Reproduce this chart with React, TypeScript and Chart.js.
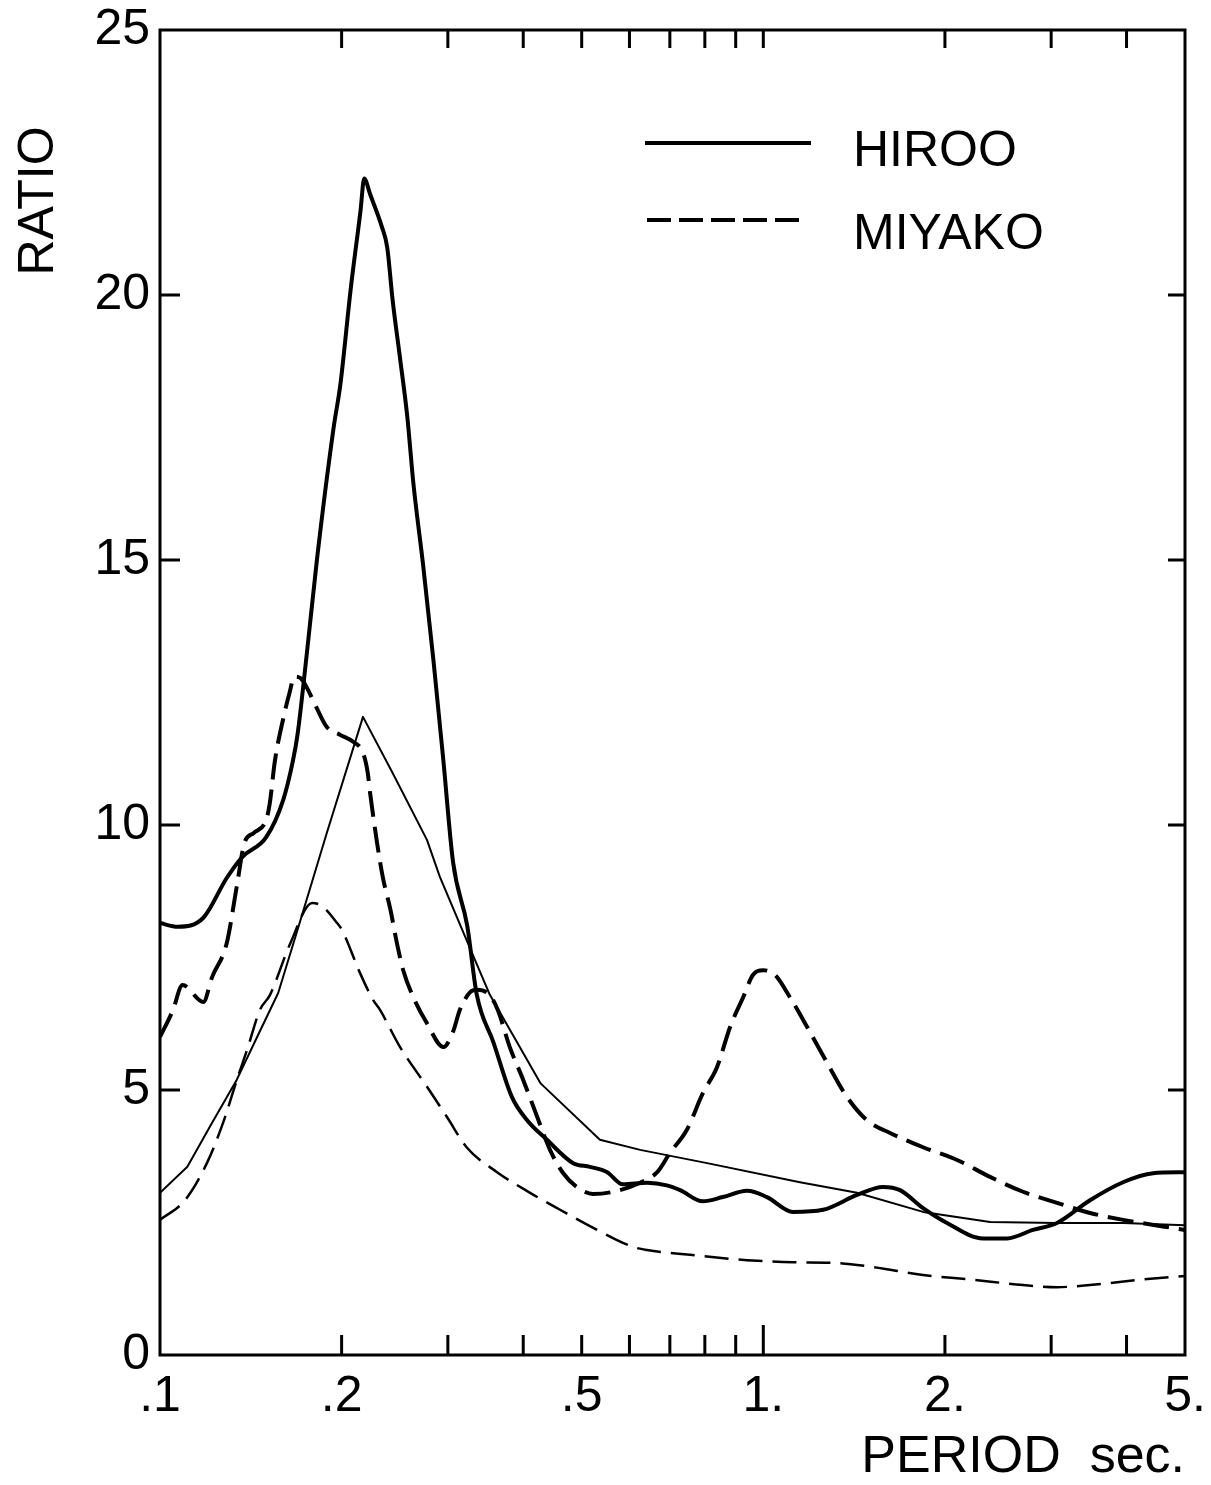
import React, { useEffect, useRef } from "react";
import { Chart, registerables } from "chart.js";

Chart.register(...registerables);

// ---- data (period in seconds, spectral ratio) ----
const hirooPeriod = [
  0.1, 0.107, 0.118, 0.129, 0.137, 0.15, 0.16, 0.166, 0.169, 0.175,
  0.182, 0.194, 0.199, 0.207, 0.215, 0.218, 0.223, 0.233, 0.238, 0.243,
  0.25, 0.257, 0.263, 0.273, 0.284, 0.295, 0.306, 0.323, 0.335, 0.357,
  0.383, 0.406, 0.438, 0.484, 0.516, 0.551, 0.585, 0.642, 0.692, 0.728,
  0.794, 0.857, 0.94, 1.014, 1.12, 1.256, 1.43, 1.579, 1.685, 1.84,
  2.016, 2.313, 2.535, 2.799, 3.068, 3.479, 3.947, 4.426, 5.0,
];
const hirooRatio = [
  8.15, 8.08, 8.25, 9.0, 9.4, 9.77, 10.47, 11.2, 11.7, 13.2,
  15.0, 17.5, 18.3, 20.1, 21.6, 22.2, 21.9, 21.3, 20.9, 19.9,
  18.8, 17.7, 16.45, 14.9, 13.1, 11.2, 9.3, 8.1, 6.8, 5.9,
  4.87, 4.43, 4.06, 3.62, 3.55, 3.45, 3.22, 3.25, 3.2, 3.11,
  2.9, 2.98, 3.1, 2.98, 2.7, 2.74, 3.02, 3.17, 3.11, 2.77,
  2.49, 2.2, 2.2, 2.36, 2.49, 2.92, 3.26, 3.43, 3.45,
];

const hirooThinPeriod = [
  0.1, 0.111, 0.122, 0.134, 0.146, 0.157, 0.169, 0.189, 0.217, 0.243,
  0.277, 0.291, 0.33, 0.352, 0.427, 0.536, 0.625, 0.807, 1.15, 1.43,
  1.84, 2.376, 3.068, 3.947, 5.0,
];
const hirooThinRatio = [
  3.06, 3.55, 4.38, 5.19, 6.08, 6.83, 8.02, 9.85, 12.04, 10.98,
  9.72, 9.02, 7.55, 6.8, 5.13, 4.06, 3.87, 3.62, 3.26, 3.06,
  2.7, 2.51, 2.49, 2.49, 2.45,
];

const miyakoPeriod = [
  0.1, 0.105, 0.109, 0.118, 0.122, 0.129, 0.134, 0.138, 0.143, 0.15,
  0.152, 0.155, 0.16, 0.164, 0.167, 0.171, 0.175, 0.182, 0.189, 0.199,
  0.209, 0.217, 0.221, 0.223, 0.229, 0.234, 0.241, 0.247, 0.253, 0.263,
  0.277, 0.295, 0.306, 0.314, 0.327, 0.335, 0.352, 0.363, 0.38, 0.4,
  0.422, 0.443, 0.466, 0.491, 0.522, 0.564, 0.625, 0.667, 0.7, 0.747,
  0.794, 0.838, 0.881, 0.926, 0.961, 1.0, 1.046, 1.107, 1.182, 1.276,
  1.376, 1.485, 1.622, 1.84, 2.095, 2.376, 2.695, 3.068, 3.479, 3.947,
  5.0,
];
const miyakoRatio = [
  6.0, 6.5, 6.98, 6.66, 7.13, 7.77, 8.83, 9.66, 9.85, 10.1,
  10.4, 11.2, 12.0, 12.5, 12.8, 12.77, 12.6, 12.2, 11.85, 11.7,
  11.57, 11.36, 10.98, 10.6, 9.66, 9.02, 8.4, 7.77, 7.26, 6.75,
  6.26, 5.81, 6.1, 6.51, 6.85, 6.89, 6.79, 6.51, 5.81, 5.19,
  4.49, 3.87, 3.43, 3.17, 3.04, 3.08, 3.25, 3.45, 3.81, 4.25,
  4.94, 5.43, 6.19, 6.75, 7.17, 7.26, 7.17, 6.75, 6.19, 5.51,
  4.87, 4.43, 4.19, 3.92, 3.68, 3.36, 3.08, 2.87, 2.68, 2.55,
  2.36,
];

const miyakoThinPeriod = [
  0.1, 0.11, 0.1196, 0.1272, 0.1341, 0.1399, 0.1464, 0.1521, 0.1642, 0.1787,
  0.1856, 0.1966, 0.2003, 0.2145, 0.2255, 0.2316, 0.25, 0.2771, 0.299, 0.3228,
  0.362, 0.4106, 0.4603, 0.5302, 0.6081, 0.6416, 0.7559, 0.9397, 1.12, 1.305,
  1.52, 1.84, 2.227, 2.695, 3.068, 3.479, 4.211, 5.0,
];
const miyakoThinRatio = [
  2.55, 2.92, 3.62, 4.38, 5.19, 5.81, 6.51, 6.79, 7.75, 8.53,
  8.47, 8.15, 8.02, 7.21, 6.7, 6.51, 5.81, 5.06, 4.49, 3.91,
  3.45, 3.06, 2.74, 2.36, 2.04, 1.98, 1.89, 1.79, 1.75, 1.74,
  1.66, 1.51, 1.42, 1.32, 1.28, 1.32, 1.42, 1.49,
];

// ---- axes ----
const xTickValues = [0.1, 0.2, 0.3, 0.4, 0.5, 0.6, 0.7, 0.8, 0.9, 1, 2, 3, 4, 5];
const xMarkValues = [0.2, 0.3, 0.4, 0.5, 0.6, 0.7, 0.8, 0.9, 1, 2, 3, 4];
const xLabelValues = [0.1, 0.2, 0.5, 1, 2, 5];
const xLabelTexts = [".1", ".2", ".5", "1.", "2.", "5."];
const yTickValues = [0, 5, 10, 15, 20, 25];
const yMarkValues = [5, 10, 15, 20];
const legendLabels = ["HIROO", "MIYAKO"];
const xTitle = "PERIOD  sec.";
const yTitle = "RATIO";

const FONT = "'Liberation Sans', Arial, Helvetica, sans-serif";

function pairs(xs: number[], ys: number[]) {
  return xs.map((x, i) => ({ x, y: ys[i] }));
}

function xLabelFor(v: number): string {
  for (let i = 0; i < xLabelValues.length; i++) {
    if (Math.abs(xLabelValues[i] - v) < 1e-9) return xLabelTexts[i];
  }
  return "";
}

function zeroPadding(s: any) {
  s.paddingTop = 0;
  s.paddingBottom = 0;
  s.paddingLeft = 0;
  s.paddingRight = 0;
}

const decorPlugin = {
  id: "decor",
  afterDraw(chart: any) {
    const { ctx, chartArea, scales } = chart;
    const { left, right, top, bottom } = chartArea;
    const xs = scales.x;
    const ys = scales.y;
    ctx.save();
    ctx.strokeStyle = "#000";
    ctx.fillStyle = "#000";
    ctx.setLineDash([]);
    ctx.lineCap = "butt";

    // frame
    ctx.lineWidth = 3;
    ctx.strokeRect(left, top, right - left, bottom - top);

    // inward tick marks
    const seg = (x1: number, y1: number, x2: number, y2: number) => {
      ctx.beginPath();
      ctx.moveTo(x1, y1);
      ctx.lineTo(x2, y2);
      ctx.stroke();
    };
    ctx.lineWidth = 3;
    for (const v of xMarkValues) {
      const px = xs.getPixelForValue(v);
      seg(px, bottom, px, bottom - (v === 1 ? 30 : 20));
      seg(px, top, px, top + 18);
    }
    for (const v of yMarkValues) {
      const py = ys.getPixelForValue(v);
      seg(left, py, left + 20, py);
      seg(right, py, right - 17, py);
    }

    // y title
    ctx.font = `50px ${FONT}`;
    ctx.save();
    ctx.translate(53, 201);
    ctx.rotate(-Math.PI / 2);
    ctx.textAlign = "center";
    ctx.textBaseline = "alphabetic";
    ctx.fillText(yTitle, 0, 0);
    ctx.restore();

    // legend
    const rows = [
      { y: 143, dash: [] as number[], tx: 166, x1: 645, x2: 811 },
      { y: 220, dash: [24, 8], tx: 249, x1: 647, x2: 805 },
    ];
    ctx.lineWidth = 4;
    rows.forEach((r, i) => {
      ctx.setLineDash(r.dash);
      seg(r.x1, r.y, r.x2, r.y);
      ctx.setLineDash([]);
      ctx.textAlign = "left";
      ctx.textBaseline = "alphabetic";
      ctx.fillText(legendLabels[i], 853, r.tx);
    });
    ctx.restore();
  },
};

export default function App() {
  const canvasRef = useRef<HTMLCanvasElement | null>(null);

  useEffect(() => {
    const canvas = canvasRef.current;
    if (!canvas) return;
    const chart = new Chart(canvas, {
      type: "line",
      data: {
        datasets: [
          {
            label: "HIROO",
            data: pairs(hirooPeriod, hirooRatio),
            borderColor: "#000",
            borderWidth: 4,
            pointRadius: 0,
            cubicInterpolationMode: "monotone",
            borderJoinStyle: "round",
            borderCapStyle: "round",
            fill: false,
          },
          {
            label: "MIYAKO",
            data: pairs(miyakoPeriod, miyakoRatio),
            borderColor: "#000",
            borderWidth: 4,
            borderDash: [26, 10],
            pointRadius: 0,
            cubicInterpolationMode: "monotone",
            borderJoinStyle: "round",
            fill: false,
          },
          {
            label: "HIROO (thin)",
            data: pairs(hirooThinPeriod, hirooThinRatio),
            borderColor: "#000",
            borderWidth: 2,
            pointRadius: 0,
            tension: 0,
            borderJoinStyle: "round",
            fill: false,
          },
          {
            label: "MIYAKO (thin)",
            data: pairs(miyakoThinPeriod, miyakoThinRatio),
            borderColor: "#000",
            borderWidth: 2.5,
            borderDash: [24, 10],
            pointRadius: 0,
            cubicInterpolationMode: "monotone",
            fill: false,
          },
        ],
      },
      options: {
        animation: false,
        responsive: false,
        devicePixelRatio: 1,
        layout: { padding: { top: 30, right: 26, bottom: 0, left: 0 } },
        plugins: {
          legend: { display: false },
          tooltip: { enabled: false },
        },
        scales: {
          x: {
            type: "logarithmic",
            min: 0.1,
            max: 5,
            grid: { display: false, drawTicks: false },
            border: { display: false },
            afterBuildTicks: (s: any) => {
              s.ticks = xTickValues.map((v) => ({ value: v }));
            },
            afterFit: (s: any) => {
              s.height = 130;
              zeroPadding(s);
            },
            ticks: {
              autoSkip: false,
              maxRotation: 0,
              minRotation: 0,
              padding: 12,
              color: "#000",
              font: { family: FONT, size: 50 },
              callback: (_v: any, i: number, ticks: any[]) => xLabelFor(ticks[i].value),
            },
            title: {
              display: true,
              text: xTitle,
              align: "end",
              color: "#000",
              font: { family: FONT, size: 52, lineHeight: 1 },
              padding: { top: 0, bottom: 1 },
            },
          },
          y: {
            type: "linear",
            min: 0,
            max: 25,
            grid: { display: false, drawTicks: false },
            border: { display: false },
            afterBuildTicks: (s: any) => {
              s.ticks = yTickValues.map((v) => ({ value: v }));
            },
            afterFit: (s: any) => {
              s.width = 160;
              zeroPadding(s);
            },
            ticks: {
              padding: 10,
              color: "#000",
              font: { family: FONT, size: 50 },
              callback: (v: any) => String(v),
            },
          },
        },
      } as any,
      plugins: [decorPlugin],
    });
    return () => chart.destroy();
  }, []);

  return (
    <div
      style={{
        position: "absolute",
        left: 0,
        top: 0,
        width: 1211,
        height: 1485,
        background: "#fff",
      }}
    >
      <canvas ref={canvasRef} width={1211} height={1485} style={{ display: "block" }} />
    </div>
  );
}
